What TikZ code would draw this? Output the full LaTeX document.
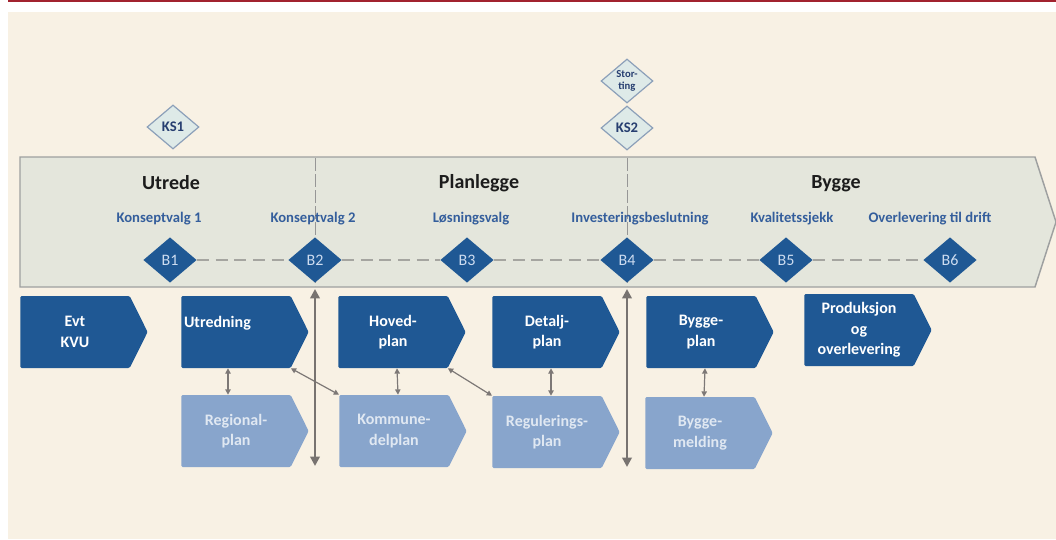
\documentclass[tikz,border=0pt]{standalone}
\usepackage{fontspec}
\setmainfont{Carlito}
\usepackage{tikz}
\usetikzlibrary{shapes.geometric}
\usetikzlibrary{shapes.symbols}
\usetikzlibrary{arrows.meta}

\begin{document}
\begin{tikzpicture}[x=0.75pt,y=0.75pt,yscale=-1,xscale=1,
  phase/.style={inner sep=0.75pt, font=\fontsize{15}{18}\selectfont\bfseries, text={rgb, 255:red, 28; green, 28; blue, 28 }},
  gatetext/.style={inner sep=0.75pt, font=\fontsize{11}{13}\selectfont\bfseries, text={rgb, 255:red, 52; green, 94; blue, 156 }},
  milestone/.style={diamond, inner sep=0pt, minimum width=40pt, minimum height=34pt, fill={rgb, 255:red, 31; green, 88; blue, 148 }, text={rgb, 255:red, 205; green, 220; blue, 240 }, font=\fontsize{12}{13}\selectfont},
  ksgate/.style={diamond, inner sep=0pt, minimum width=39pt, minimum height=33pt, line width=0.9pt, draw={rgb, 255:red, 140; green, 160; blue, 185 }, fill={rgb, 255:red, 222; green, 234; blue, 232 }, text={rgb, 255:red, 38; green, 62; blue, 112 }, font=\fontsize{11}{11}\selectfont\bfseries},
  process/.style={signal, signal to=east, signal pointer angle=127, inner sep=2pt, text width=78pt, align=center, minimum height=54pt, rounded corners=1pt, fill={rgb, 255:red, 31; green, 88; blue, 148 }, text=white, font=\fontsize{12}{15.5}\selectfont\bfseries},
  plan/.style={process, fill={rgb, 255:red, 136; green, 165; blue, 204 }, text={rgb, 255:red, 224; green, 232; blue, 242 }},
  link/.style={{Triangle[length=4pt,width=4pt]}-{Triangle[length=4pt,width=4pt]}, line width=0.9pt, color={rgb, 255:red, 125; green, 120; blue, 118 }},
  divider/.style={{Triangle[length=7pt,width=7pt]}-{Triangle[length=7pt,width=7pt]}, line width=2pt, color={rgb, 255:red, 120; green, 115; blue, 112 }},
  gateline/.style={dash pattern=on 9pt off 5pt, line width=0.8pt, color={rgb, 255:red, 165; green, 165; blue, 160 }},
  phaseline/.style={dash pattern=on 10pt off 2pt, line width=0.5pt, color={rgb, 255:red, 150; green, 150; blue, 150 }}
]
\useasboundingbox (0,0) rectangle (1056,539);

%Shape: Background
\fill [color=white] (0,0) rectangle (1056,539);
\fill [color={rgb, 255:red, 248; green, 241; blue, 228 }] (8,12) rectangle (1056,539);
\fill [color={rgb, 255:red, 162; green, 35; blue, 47 }] (8,0) rectangle (1056,2);

%Shape: Phase band
\draw [color={rgb, 255:red, 158; green, 160; blue, 160 }, line width=1.1pt][fill={rgb, 255:red, 228; green, 230; blue, 220 }] (20,157) -- (1035,157) -- (1056,222) -- (1035,287) -- (20,287) -- cycle ;
\draw [phaseline] (315,158) -- (315,286) ;
\draw [phaseline] (627,158) -- (627,286) ;

% Text Node
\node [phase] (utrede) at (171,183) {Utrede};
\node [phase] (planlegge) at (479,183) {Planlegge};
\node [phase] (bygge) at (836,184) {Bygge};

% Text Node
\node [gatetext] (kv1) at (159,219) {Konseptvalg 1};
\node [gatetext] (kv2) at (313,219) {Konseptvalg 2};
\node [gatetext] (lv) at (471,219) {Løsningsvalg};
\node [gatetext] (ib) at (640,219) {Investeringsbeslutning};
\node [gatetext] (ks) at (792,219) {Kvalitetssjekk};
\node [gatetext] (od) at (930,219) {Overlevering til drift};

%Shape: Milestones
\node [milestone] (b1) at (170,260) {B1};
\node [milestone] (b2) at (315,260) {B2};
\node [milestone] (b3) at (467,260) {B3};
\node [milestone] (b4) at (627,260) {B4};
\node [milestone] (b5) at (786,260) {B5};
\node [milestone] (b6) at (950,260) {B6};
\foreach \a/\b in {b1/b2,b2/b3,b3/b4,b4/b5,b5/b6}
  \draw [gateline] (\a.east) -- (\b.west) ;

%Shape: Quality gates
\node [ksgate] (ks1) at (173,127) {KS1};
\node [ksgate] (ks2) at (627,128) {KS2};
\node [ksgate, font=\fontsize{8}{8.5}\selectfont\bfseries, align=center] (storting) at (627,81) {Stor-\\ting};

%Shape: Main process
\node [process] (evt) at (75,332) {Evt\\KVU};
\node [process, align=left] (utr) at (236,332) {Utredning\\\mbox{}};
\node [process] (hov) at (393,332) {Hoved-\\plan};
\node [process] (det) at (547,332) {Detalj-\\plan};
\node [process] (byg) at (701,332) {Bygge-\\plan};
\node [process] (prod) at (859,330) {Produksjon\\og\\overlevering};

%Shape: Plans
\node [plan] (reg) at (236,431) {Regional-\\plan};
\node [plan] (kom) at (394,431) {Kommune-\\delplan};
\node [plan] (regu) at (547,432) {Regulerings-\\plan};
\node [plan] (bmeld) at (700,433) {Bygge-\\melding};

% Links
\draw [link] ([xshift=-6pt]utr.south) -- ([xshift=-6pt]reg.north) ;
\draw [link] ([xshift=3pt]hov.south) -- ([xshift=3pt]kom.north) ;
\draw [link] ([xshift=3pt]det.south) -- ([xshift=3pt]regu.north) ;
\draw [link] ([xshift=3pt]byg.south) -- ([xshift=3pt]bmeld.north) ;
\draw [link] (utr.south east) -- (kom.north west) ;
\draw [link] (hov.south east) -- (regu.north west) ;

% Dividers
\coordinate (d2top) at (315,289);
\coordinate (d2bot) at (315,466);
\coordinate (d4top) at (627,289);
\coordinate (d4bot) at (627,467);
\draw [divider] (d2top) -- (d2bot) ;
\draw [divider] (d4top) -- (d4bot) ;

\end{tikzpicture}
\end{document}
